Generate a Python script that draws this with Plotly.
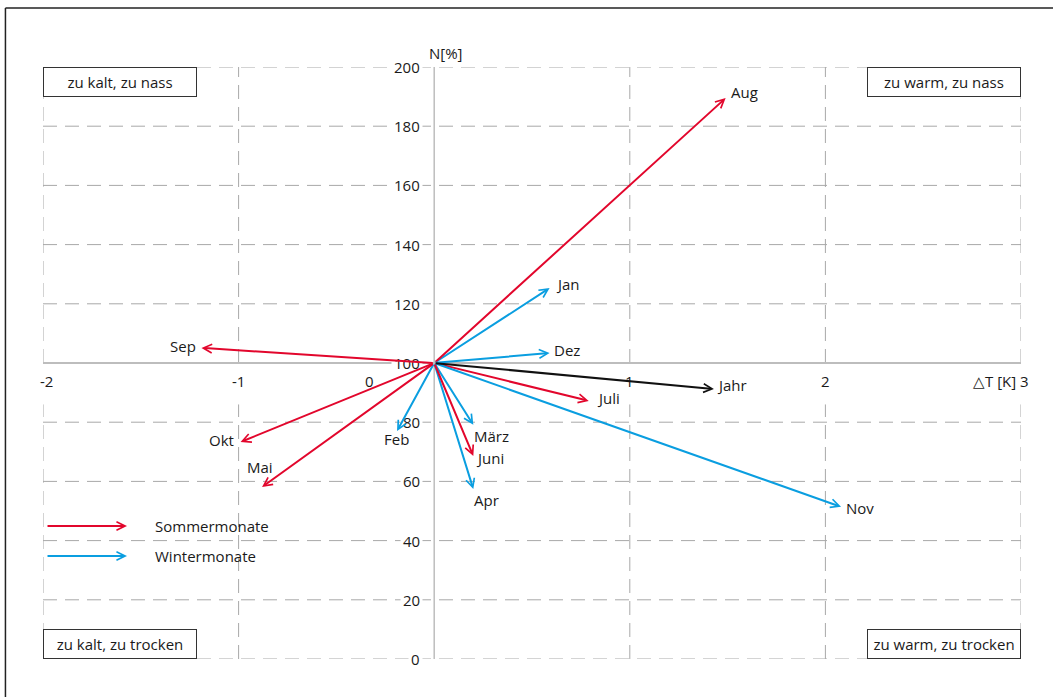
import plotly.graph_objects as go

# ---------------- data ----------------
months = ["Jan", "Feb", "März", "Apr", "Mai", "Juni", "Juli", "Aug", "Sep", "Okt", "Nov", "Dez", "Jahr"]
delta_T = [0.59, -0.19, 0.20, 0.20, -0.88, 0.20, 0.79, 1.49, -1.19, -0.99, 2.08, 0.59, 1.43]
precip_N = [125.3, 77.0, 79.1, 57.4, 58.1, 68.6, 87.2, 189.5, 105.1, 73.3, 51.4, 103.4, 91.2]
season = ["W", "W", "W", "W", "S", "S", "S", "S", "S", "S", "W", "W", "Y"]
origin_T = 0
origin_N = 100

x_ticks = [-2, -1, 0, 1, 2, 3]
y_ticks = [0, 20, 40, 60, 80, 100, 120, 140, 160, 180, 200]
corner_labels = ["zu kalt, zu nass", "zu warm, zu nass", "zu kalt, zu trocken", "zu warm, zu trocken"]
legend_labels = ["Sommermonate", "Wintermonate"]

# ---------------- style ----------------
RED = "#e2062c"
BLUE = "#0a9ee0"
BLACK = "#111111"
GRID = "#a8a8a8"
AXIS = "#bdbdbd"
TXT = "#1a1a1a"
FONT = "Open Sans"
FS = 15
colors = {"S": RED, "W": BLUE, "Y": BLACK}

# label placement (xanchor, xshift px, yshift px)
label_pos = {
    "Jan": ("left", 4, 4), "Feb": ("center", -1, -8), "März": ("left", -1, -11),
    "Apr": ("left", -1, -11), "Mai": ("center", -2, 20), "Juni": ("left", 1, -2),
    "Juli": ("left", 6, 3), "Aug": ("left", 3, 6), "Sep": ("right", -3, 2),
    "Okt": ("right", -5, 2), "Nov": ("left", 3, -1), "Dez": ("left", 2, 3),
    "Jahr": ("left", 1, 4),
}

fig = go.Figure()
# invisible trace to establish axes
fig.add_trace(go.Scatter(x=delta_T, y=precip_N, mode="markers",
                         marker=dict(opacity=0), hoverinfo="skip", showlegend=False))

shapes = []
dash = "14px,8px"
# horizontal gridlines
for yv in y_ticks:
    if yv == origin_N:
        continue
    shapes.append(dict(type="line", xref="x", yref="y", x0=x_ticks[0], x1=x_ticks[-1], y0=yv, y1=yv,
                       line=dict(color=GRID, width=1, dash=dash), layer="below"))
# vertical gridlines (broken around the x tick labels)
for xv in x_ticks:
    if xv == origin_T:
        continue
    shapes.append(dict(type="line", xref="x", yref="y", x0=xv, x1=xv, y0=origin_N, y1=y_ticks[-1],
                       line=dict(color=GRID, width=1, dash=dash), layer="below"))
    shapes.append(dict(type="line", xref="x", yref="y", x0=xv, x1=xv, y0=y_ticks[0], y1=86,
                       line=dict(color=GRID, width=1, dash=dash), layer="below"))
# axes lines
shapes.append(dict(type="line", xref="x", yref="y", x0=x_ticks[0], x1=x_ticks[-1], y0=origin_N, y1=origin_N,
                   line=dict(color=AXIS, width=2), layer="below"))
shapes.append(dict(type="line", xref="x", yref="y", x0=origin_T, x1=origin_T, y0=y_ticks[0], y1=y_ticks[-1],
                   line=dict(color=AXIS, width=1.5), layer="below"))
# outer frame (left and top)
shapes.append(dict(type="line", xref="paper", yref="paper", x0=-0.0384, x1=-0.0384, y0=1.0997, y1=-0.07,
                   line=dict(color="#222", width=1.5)))
shapes.append(dict(type="line", xref="paper", yref="paper", x0=-0.0384, x1=1.04, y0=1.0997, y1=1.0997,
                   line=dict(color="#222", width=1.5)))

annotations = []
# y tick labels
for yv in y_ticks:
    annotations.append(dict(x=origin_T, y=yv, xref="x", yref="y", text=str(yv), showarrow=False,
                            xanchor="right", yanchor="middle", xshift=-11,
                            bgcolor="white", borderpad=2,
                            font=dict(family=FONT, size=FS, color=TXT)))
# x tick labels
for xv in x_ticks:
    xs = -65 if xv == 0 else (3 if xv == -2 else (3 if xv == 3 else 0))
    annotations.append(dict(x=xv, y=origin_N, xref="x", yref="y", text=str(xv), showarrow=False,
                            xanchor="center", yanchor="middle", xshift=xs, yshift=-18,
                            font=dict(family=FONT, size=FS, color=TXT)))
# axis titles
annotations.append(dict(x=origin_T, y=1, xref="x", yref="paper", text="N[%]", showarrow=False,
                        xanchor="left", yanchor="middle", xshift=-7, yshift=14,
                        font=dict(family=FONT, size=FS, color=TXT)))
annotations.append(dict(x=x_ticks[-1], y=origin_N, xref="x", yref="y", text="△T [K]", showarrow=False,
                        xanchor="right", yanchor="middle", xshift=-3, yshift=-18,
                        font=dict(family=FONT, size=FS, color=TXT)))

# arrows
for m, t, n, s in zip(months, delta_T, precip_N, season):
    annotations.append(dict(x=t, y=n, ax=origin_T, ay=origin_N, xref="x", yref="y", axref="x", ayref="y",
                            text="", showarrow=True, arrowhead=5, arrowsize=0.85, arrowwidth=2,
                            arrowcolor=colors[s], standoff=0, startstandoff=0))
for m, t, n in zip(months, delta_T, precip_N):
    xa, xs, ys = label_pos[m]
    annotations.append(dict(x=t, y=n, xref="x", yref="y", text=m, showarrow=False,
                            xanchor=xa, yanchor="middle", xshift=xs, yshift=ys,
                            font=dict(family=FONT, size=FS, color=TXT)))

# corner boxes
corner_pos = [(0, 1, "left", "top"), (1, 1, "right", "top"), (0, 0, "left", "bottom"), (1, 0, "right", "bottom")]
for lab, (px, py, xa, ya) in zip(corner_labels, corner_pos):
    annotations.append(dict(x=px, y=py, xref="paper", yref="paper", text=lab, showarrow=False,
                            xanchor=xa, yanchor=ya, width=150, height=26, align="center",
                            bordercolor="#333", borderwidth=1, borderpad=1, bgcolor="white",
                            font=dict(family=FONT, size=FS, color=TXT)))

# legend (arrow + label)
leg_colors = [RED, BLUE]
leg_y = [0.2247, 0.174]
for lab, c, ly in zip(legend_labels, leg_colors, leg_y):
    annotations.append(dict(x=0.0859, y=ly, xref="paper", yref="paper", ax=-81, ay=0,
                            text="", showarrow=True, arrowhead=5, arrowsize=0.85, arrowwidth=2,
                            arrowcolor=c, standoff=0))
    annotations.append(dict(x=0.112, y=ly, xref="paper", yref="paper", text=lab, showarrow=False,
                            xanchor="left", yanchor="middle",
                            font=dict(family=FONT, size=FS, color=TXT)))

fig.update_layout(
    width=1053, height=697,
    margin=dict(l=43, r=32, t=67, b=38, pad=0),
    paper_bgcolor="white", plot_bgcolor="white",
    xaxis=dict(range=[x_ticks[0], x_ticks[-1]], visible=False, fixedrange=True),
    yaxis=dict(range=[y_ticks[0], y_ticks[-1]], visible=False, fixedrange=True),
    shapes=shapes, annotations=annotations, showlegend=False,
)
fig.write_html("out.html", config={"displayModeBar": False},
               post_script="document.body.style.margin='0';")
